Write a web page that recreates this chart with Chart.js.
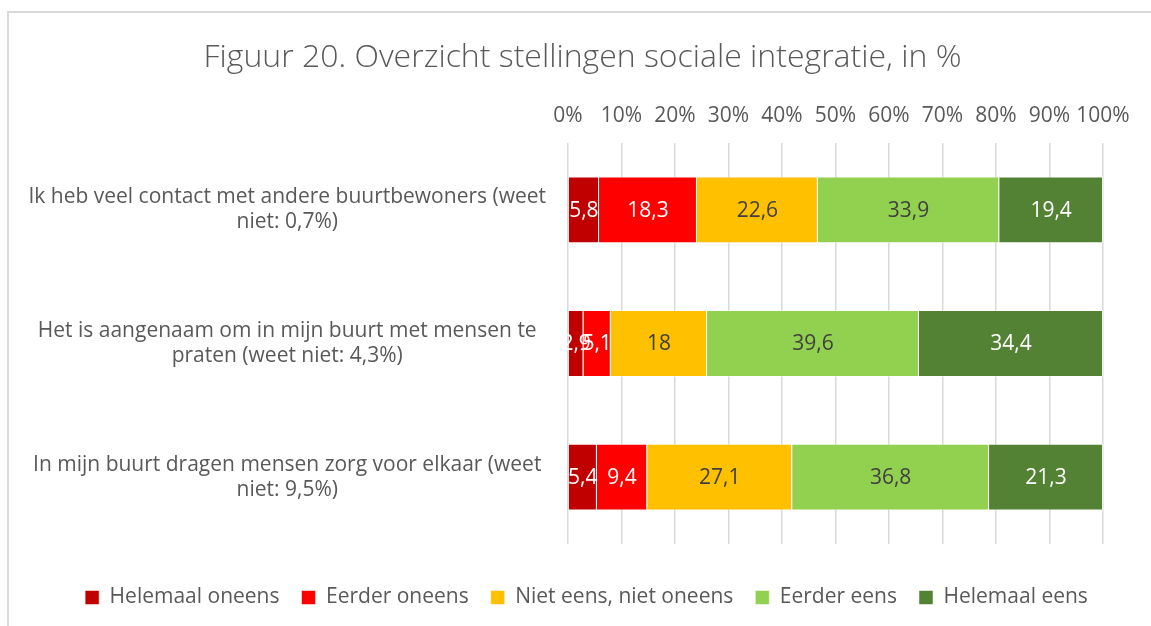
<!DOCTYPE html>
<html>
<head>
<meta charset="utf-8">
<script src="https://cdn.jsdelivr.net/npm/chart.js@4/dist/chart.umd.min.js"></script>
<style>
    body { margin: 0; background: #fff; }
    #wrap { position: relative; width: 1151px; height: 626px; overflow: hidden; }
    #frame { position: absolute; left: 7px; top: 11px; width: 1200px; height: 700px; border-left: 2px solid #d9d9d9; border-top: 2px solid #d9d9d9; }
    #barChart { position: absolute; left: 0; top: 0; }
</style>
</head>
<body>
<div id="wrap">
    <div id="frame"></div>
    <canvas id="barChart" width="1151" height="626"></canvas>
</div>
<script>
const categories = [
    ['Ik heb veel contact met andere buurtbewoners (weet', 'niet: 0,7%)'],
    ['Het is aangenaam om in mijn buurt met mensen te', 'praten (weet niet: 4,3%)'],
    ['In mijn buurt dragen mensen zorg voor elkaar (weet', 'niet: 9,5%)']
];
const seriesNames = ['Helemaal oneens', 'Eerder oneens', 'Niet eens, niet oneens', 'Eerder eens', 'Helemaal eens'];
const helemaalOneens = [5.8, 2.9, 5.4];
const eerderOneens = [18.3, 5.1, 9.4];
const nietEensNietOneens = [22.6, 18, 27.1];
const eerderEens = [33.9, 39.6, 36.8];
const helemaalEens = [19.4, 34.4, 21.3];
const tickValues = [0, 10, 20, 30, 40, 50, 60, 70, 80, 90, 100];

const seriesValues = [helemaalOneens, eerderOneens, nietEensNietOneens, eerderEens, helemaalEens];
const barColors = ['#C00000', '#FF0000', '#FFC000', '#92D050', '#548235'];
const labelColors = ['#ffffff', '#ffffff', '#404040', '#404040', '#ffffff'];

const FONT = "'Open Sans', sans-serif";
const LEGEND_SHRINK = -17;
const LEGEND_SHIFT_Y = 21;
const LEGEND_SHIFT_X = 35;
const TITLE_SHIFT_X = 31;

// draws the value in the middle of every segment
const valueLabels = {
    id: 'valueLabels',
    afterDatasetsDraw(chart) {
        const ctx = chart.ctx;
        ctx.save();
        ctx.font = '21px ' + FONT;
        ctx.textAlign = 'center';
        ctx.textBaseline = 'middle';
        chart.data.datasets.forEach((ds, i) => {
            chart.getDatasetMeta(i).data.forEach((bar, j) => {
                const cx = (bar.x + bar.base) / 2;
                ctx.fillStyle = labelColors[i];
                ctx.fillText(String(ds.data[j]).replace('.', ','), cx, bar.y + 1);
            });
        });
        ctx.restore();
    }
};

// nudge a layout box (title / legend) without changing the plot area
const shiftBox = (box, dx, dy, shrink) => {
    if (!box || box._shifted) return;
    if (shrink) {
        const fit = box.fit;
        box.fit = function () { fit.call(this); this.height -= shrink; };
    }
    const draw = box.draw;
    box.draw = function () {
        this.ctx.save();
        this.ctx.translate(dx, dy);
        draw.call(this);
        this.ctx.restore();
    };
    box._shifted = true;
};

const boxTweak = {
    id: 'boxTweak',
    beforeUpdate(chart) {
        shiftBox(chart.legend, LEGEND_SHIFT_X, LEGEND_SHIFT_Y, LEGEND_SHRINK);
        shiftBox(chart.titleBlock, TITLE_SHIFT_X, 0, 0);
    }
};

let StartFunc = () => {
    const ctx = document.getElementById('barChart');

    new Chart(ctx, {
        type: 'bar',
        data: {
            labels: categories,
            datasets: seriesNames.map((name, i) => ({
                label: name,
                data: seriesValues[i],
                backgroundColor: barColors[i],
                borderColor: 'rgba(255,255,255,0.5)',
                borderWidth: 1,
                categoryPercentage: 1,
                barPercentage: 0.5
            }))
        },
        options: {
            indexAxis: 'y',
            responsive: false,
            animation: false,
            layout: { padding: { top: 30, right: 48, bottom: 12, left: 0 } },
            plugins: {
                title: {
                    display: true,
                    text: 'Figuur 20. Overzicht stellingen sociale integratie, in %',
                    color: '#595959',
                    font: { family: FONT, size: 32, weight: '300' },
                    padding: { top: 9, bottom: 23 }
                },
                legend: {
                    position: 'bottom',
                    labels: {
                        color: '#595959',
                        font: { family: FONT, size: 21 },
                        boxWidth: 14,
                        boxHeight: 14,
                        padding: 22
                    }
                },
                tooltip: { enabled: false }
            },
            scales: {
                x: {
                    position: 'top',
                    stacked: true,
                    min: 0,
                    max: 100,
                    afterBuildTicks: (scale) => { scale.ticks = tickValues.map(v => ({ value: v })); },
                    afterFit: (scale) => { scale.height = 42.6; },
                    ticks: {
                        color: '#595959',
                        font: { family: FONT, size: 21 },
                        padding: 14.4,
                        autoSkip: false,
                        maxRotation: 0,
                        callback: (v) => v + '%'
                    },
                    grid: { color: '#d9d9d9', lineWidth: 1.5, drawTicks: false },
                    border: { display: false }
                },
                y: {
                    stacked: true,
                    afterFit: (scale) => { scale.width = 568; },
                    ticks: {
                        color: '#595959',
                        font: { family: FONT, size: 21 },
                        crossAlign: 'center',
                        padding: 22
                    },
                    grid: { display: false, drawTicks: false },
                    border: { display: false }
                }
            }
        },
        plugins: [valueLabels, boxTweak]
    });
};

StartFunc();
</script>
</body>
</html>
